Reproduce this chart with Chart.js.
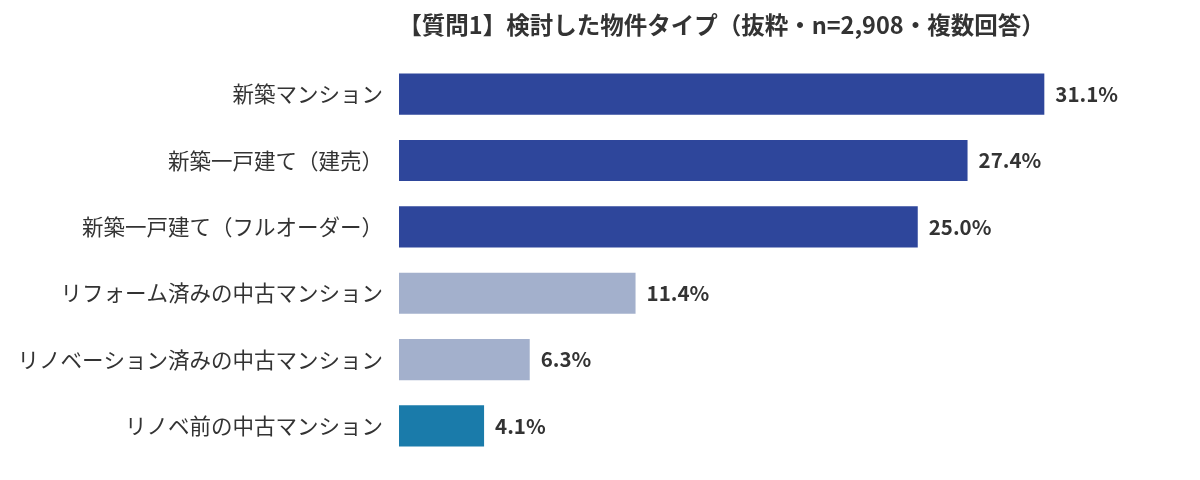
<!DOCTYPE html>
<html lang="ja">
<head>
<meta charset="utf-8">
<script src="https://cdn.jsdelivr.net/npm/chart.js@4/dist/chart.umd.min.js"></script>
<style>
    html, body { margin:0; padding:0; background:#fff; }
    #wrap { width:1200px; height:480px; }
</style>
</head>
<body>
<div id="wrap"><canvas id="chartBukken"></canvas></div>
<script>
var judul       =   '【質問1】検討した物件タイプ（抜粋・n=2,908・複数回答）';
var kategori    =   ['新築マンション', '新築一戸建て（建売）', '新築一戸建て（フルオーダー）',
                     'リフォーム済みの中古マンション', 'リノベーション済みの中古マンション', 'リノベ前の中古マンション'];
var persen      =   [31.1, 27.4, 25.0, 11.4, 6.3, 4.1];
var warna       =   ['#2E469B', '#2E469B', '#2E469B', '#A3B0CC', '#A3B0CC', '#1A7BAA'];

var fontJP      =   '"Noto Sans CJK JP", "Noto Sans", sans-serif';

// title centred over the bar area, not the whole canvas
var judulPlugin = {
    id: 'judulPlugin',
    afterDraw: function (chart) {
        var ctx  = chart.ctx;
        var area = chart.chartArea;
        ctx.save();
        ctx.font = 'bold 23.5px ' + fontJP;
        ctx.fillStyle = '#333333';
        ctx.textAlign = 'center';
        ctx.textBaseline = 'middle';
        ctx.fillText(judul, (area.left + 1044) / 2, 25);
        ctx.restore();
    }
};

// value labels at the end of each bar
var nilaiPlugin = {
    id: 'nilaiPlugin',
    afterDatasetsDraw: function (chart) {
        var ctx  = chart.ctx;
        var meta = chart.getDatasetMeta(0);
        ctx.save();
        ctx.font = 'bold 20.5px ' + fontJP;
        ctx.fillStyle = '#333333';
        ctx.textAlign = 'left';
        ctx.textBaseline = 'middle';
        meta.data.forEach(function (bar, i) {
            ctx.fillText(persen[i].toFixed(1) + '%', bar.x + 11, bar.y);
        });
        ctx.restore();
    }
};

var bukkenChart = document.getElementById('chartBukken').getContext('2d');
new Chart(bukkenChart, {
    type: 'bar',
    data: {
        labels: kategori,
        datasets: [{
            data: persen,
            backgroundColor : warna,
            borderWidth     : 0,
            categoryPercentage : 1,
            barPercentage      : 0.62
        }]
    },
    options: {
        indexAxis: 'y',
        responsive: true,
        maintainAspectRatio: false,
        animation: false,
        layout: { padding: { top: 61, bottom: 14, left: 0, right: 54 } },
        plugins: {
            legend:  { display: false },
            tooltip: { enabled: false },
            title:   { display: false }
        },
        scales: {
            x: {
                display: false,
                min: 0,
                max: 36
            },
            y: {
                grid:   { display: false, drawBorder: false },
                border: { display: false },
                ticks: {
                    color: '#333333',
                    padding: 8,
                    font: { family: fontJP, size: 21.5 }
                },
                afterFit: function (axis) { axis.width = 399; }
            }
        }
    },
    plugins: [judulPlugin, nilaiPlugin]
});
</script>
</body>
</html>
